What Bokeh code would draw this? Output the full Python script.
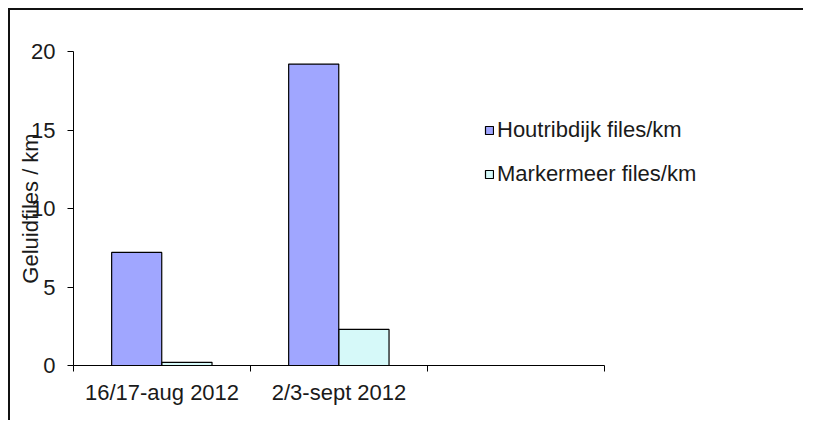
from bokeh.plotting import figure
from bokeh.models import ColumnDataSource, Range1d, FixedTicker, Legend, LegendItem
from bokeh.transform import dodge
from bokeh.embed import file_html
from bokeh.resources import INLINE

categories = ["16/17-aug 2012", "2/3-sept 2012"]
n_slots = 3  # the axis has room for a third, empty category
houtribdijk = [7.2, 19.2]
markermeer = [0.2, 2.3]
series_names = ["Houtribdijk files/km", "Markermeer files/km"]
y_ticks = [0, 5, 10, 15, 20]

x_centers = [i + 0.5 for i in range(len(categories))]
src = ColumnDataSource(dict(x=x_centers, h=houtribdijk, m=markermeer))

FONT = "Liberation Sans"
FS = "22px"

# frame extends right so the legend fits; the axis line covers only the 3 slots
p = figure(width=795, height=412, output_backend="svg", toolbar_location=None,
           x_range=Range1d(0, 4.09), y_range=Range1d(0, 20),
           min_border_left=63, min_border_right=8, min_border_top=41, min_border_bottom=57)
p.styles = {"border-top": "2px solid #111", "border-left": "2px solid #111",
            "margin-left": "8px", "margin-top": "8px"}
p.outline_line_color = None
p.grid.visible = False
p.background_fill_color = "white"
p.border_fill_color = "white"

bw = 0.283
r1 = p.vbar(x=dodge("x", -0.143, range=p.x_range), top="h", width=bw, source=src,
            fill_color="#A0A6FF", line_color="black", line_width=1.2)
r2 = p.vbar(x=dodge("x", 0.141, range=p.x_range), top="m", width=bw, source=src,
            fill_color="#D6F9F9", line_color="black", line_width=1.2)

# x axis: labels at category centres, ticks at category boundaries
xa = p.xaxis[0]
xa.bounds = (0, n_slots)
xa.ticker = FixedTicker(ticks=x_centers, minor_ticks=list(range(n_slots + 1)))
xa.major_label_overrides = {c: lab for c, lab in zip(x_centers, categories)}
xa.major_tick_line_color = None
xa.major_tick_out = 6
xa.major_tick_in = 0
xa.minor_tick_out = 6
xa.minor_tick_in = 0
xa.minor_tick_line_color = "black"
xa.axis_line_color = "black"
xa.major_label_standoff = 8
xa.major_label_text_font = FONT
xa.major_label_text_font_size = FS
xa.major_label_text_color = "#1a1a1a"

ya = p.yaxis[0]
ya.ticker = FixedTicker(ticks=y_ticks)
ya.minor_tick_line_color = None
ya.major_tick_out = 6
ya.major_tick_in = 0
ya.major_tick_line_color = "black"
ya.axis_line_color = "black"
ya.major_label_standoff = 12
ya.major_label_text_font = FONT
ya.major_label_text_font_size = FS
ya.major_label_text_color = "#1a1a1a"
ya.axis_label = "Geluidfiles / km"
ya.axis_label_text_font = FONT
ya.axis_label_text_font_size = FS
ya.axis_label_text_font_style = "normal"
ya.axis_label_text_color = "#1a1a1a"
ya.axis_label_standoff = -15

legend = Legend(items=[LegendItem(label=series_names[0], renderers=[r1]),
                       LegendItem(label=series_names[1], renderers=[r2])],
                location=(411, 178), padding=0, margin=0, spacing=18,
                glyph_width=10, glyph_height=10, label_height=22, label_standoff=3,
                label_text_font=FONT, label_text_font_size=FS, label_text_color="#1a1a1a",
                background_fill_alpha=0, border_line_color=None)
p.add_layout(legend, "center")

open("out.html", "w").write(file_html(p, INLINE))
